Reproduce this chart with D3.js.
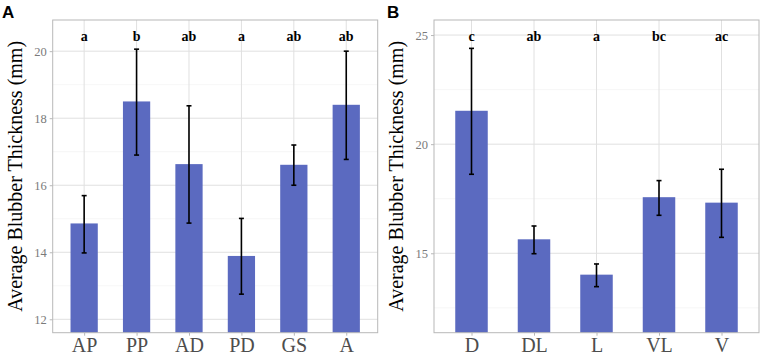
<!DOCTYPE html>
<html>
<head>
<meta charset="utf-8">
<script src="https://cdn.jsdelivr.net/npm/d3@7"></script>
<style>
  body { margin: 0; background: #fff; }
  svg { display: block; }
</style>
</head>
<body>
<svg id="chart"></svg>
<script>
const width = 761, height = 356;

// panel A: body region
const catsA = ['AP', 'PP', 'AD', 'PD', 'GS', 'A'];
const meanA = [14.86, 18.5, 16.63, 13.89, 16.61, 18.4];
const lowA = [13.98, 16.9, 14.87, 12.75, 16.0, 16.77];
const highA = [15.69, 20.06, 18.37, 15.01, 17.2, 20.0];
const lettersA = ['a', 'b', 'ab', 'a', 'ab', 'ab'];
const ticksA = [12, 14, 16, 18, 20];

// panel B: position on body
const catsB = ['D', 'DL', 'L', 'VL', 'V'];
const meanB = [21.53, 15.64, 14.02, 17.57, 17.32];
const lowB = [18.62, 14.98, 13.47, 16.74, 15.73];
const highB = [24.39, 16.25, 14.51, 18.33, 18.85];
const lettersB = ['c', 'ab', 'a', 'bc', 'ac'];
const ticksB = [15, 20, 25];

const barColor = '#5B6AC0';
const serif = '"Liberation Serif", "Times New Roman", serif';

const svg = d3.select('#chart')
  .attr('width', width)
  .attr('height', height)
  .attr('viewBox', [0, 0, width, height]);

function drawPanel(opts) {
  const { cats, mean, low, high, letters, ticks, yDomain, letterY, left, right, tag, tagX } = opts;
  const top = 20, bottom = 332.7;

  const n = cats.length;
  const x = d3.scalePoint().domain(cats).range([left, right]).padding(0.6 + 0.0);
  // ggplot discrete expansion: 0.6 of a step on each side
  const step = (right - left) / (n - 1 + 1.2);
  x.range([left + 0.6 * step, right - 0.6 * step]).padding(0);
  const y = d3.scaleLinear().domain(yDomain).range([bottom, top]);

  const g = svg.append('g');

  // minor grid
  const minor = d3.range(Math.ceil(yDomain[0]), yDomain[1], (ticks[1] - ticks[0]) / 2)
    .filter(v => !ticks.includes(v));
  const minorVals = [];
  for (let i = 0; i < ticks.length + 1; i++) {
    const v = ticks[0] + (i - 0.5) * (ticks[1] - ticks[0]);
    if (v > yDomain[0] && v < yDomain[1]) minorVals.push(v);
  }
  g.append('g').selectAll('line').data(minorVals).join('line')
    .attr('x1', left).attr('x2', right)
    .attr('y1', d => y(d)).attr('y2', d => y(d))
    .attr('stroke', '#f0f0f0').attr('stroke-width', 0.6);

  // major grid
  g.append('g').selectAll('line').data(ticks).join('line')
    .attr('x1', left).attr('x2', right)
    .attr('y1', d => y(d)).attr('y2', d => y(d))
    .attr('stroke', '#e0e0e0').attr('stroke-width', 1);
  g.append('g').selectAll('line').data(cats).join('line')
    .attr('x1', d => x(d)).attr('x2', d => x(d))
    .attr('y1', top).attr('y2', bottom)
    .attr('stroke', '#e0e0e0').attr('stroke-width', 1);

  // bars
  const bw = step * 0.52;
  g.append('g').selectAll('rect').data(cats).join('rect')
    .attr('x', d => x(d) - bw / 2)
    .attr('width', bw)
    .attr('y', (d, i) => y(mean[i]))
    .attr('height', (d, i) => bottom - y(mean[i]))
    .attr('fill', barColor);

  // error bars
  const eb = g.append('g').attr('stroke', '#000').attr('stroke-width', 1.6);
  cats.forEach((c, i) => {
    const cx = x(c);
    eb.append('line').attr('x1', cx).attr('x2', cx).attr('y1', y(low[i])).attr('y2', y(high[i]));
    eb.append('line').attr('x1', cx - 2.5).attr('x2', cx + 2.5).attr('y1', y(low[i])).attr('y2', y(low[i]));
    eb.append('line').attr('x1', cx - 2.5).attr('x2', cx + 2.5).attr('y1', y(high[i])).attr('y2', y(high[i]));
  });

  // significance letters
  g.append('g').selectAll('text').data(cats).join('text')
    .attr('x', d => x(d))
    .attr('y', y(letterY))
    .attr('dy', '0.35em')
    .attr('text-anchor', 'middle')
    .style('font-family', serif)
    .style('font-weight', 'bold')
    .style('font-size', '14px')
    .text((d, i) => letters[i]);

  // panel border
  g.append('rect')
    .attr('x', left).attr('y', top)
    .attr('width', right - left).attr('height', bottom - top)
    .attr('fill', 'none').attr('stroke', '#b8b8b8').attr('stroke-width', 1);

  // y axis
  const ya = g.append('g')
    .attr('transform', `translate(${left},0)`)
    .call(d3.axisLeft(y).tickValues(ticks).tickSize(3).tickPadding(3));
  ya.select('.domain').remove();
  ya.selectAll('line').attr('stroke', '#b8b8b8');
  ya.selectAll('text').style('font-family', serif).style('font-size', '12.5px').attr('fill', '#7a7a7a');

  // x axis
  const xa = g.append('g')
    .attr('transform', `translate(0,${bottom})`)
    .call(d3.axisBottom(x).tickSize(3).tickPadding(2));
  xa.select('.domain').remove();
  xa.selectAll('line').attr('stroke', '#b8b8b8');
  xa.selectAll('text').style('font-family', serif).style('font-size', '20px').attr('fill', '#4d4d4d');

  // y title
  g.append('text')
    .attr('transform', `translate(${left - 31},${(top + bottom) / 2}) rotate(-90)`)
    .attr('text-anchor', 'middle')
    .style('font-family', serif)
    .style('font-size', '20px')
    .attr('fill', '#000')
    .text('Average Blubber Thickness (mm)');

  // panel tag
  svg.append('text')
    .attr('x', tagX).attr('y', 18)
    .style('font-family', '"Liberation Sans", Arial, sans-serif')
    .style('font-weight', 'bold')
    .style('font-size', '17px')
    .text(tag);
}

drawPanel({
  cats: catsA, mean: meanA, low: lowA, high: highA, letters: lettersA, ticks: ticksA,
  yDomain: [11.6, 20.93], letterY: 20.46, left: 52.7, right: 377.7, tag: 'A', tagX: 2
});

drawPanel({
  cats: catsB, mean: meanB, low: lowB, high: highB, letters: lettersB, ticks: ticksB,
  yDomain: [11.36, 25.69], letterY: 24.97, left: 434, right: 759, tag: 'B', tagX: 387
});
</script>
</body>
</html>
